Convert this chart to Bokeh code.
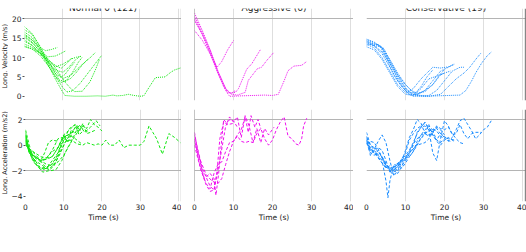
from bokeh.plotting import figure
from bokeh.layouts import column, row
from bokeh.models import Range1d, LinearAxis, FixedTicker, Span, Label
from bokeh.core.properties import value
from bokeh.embed import file_html
from bokeh.resources import INLINE

# ---------------- data ----------------
panel_titles = ["Normal 0 (121)", "Aggressive (6)", "Conservative (19)"]
vel_axis_label = "Long. Velocity (m/s)"
acc_axis_label = "Long. Acceleration (m/s2)"
time_axis_label = "Time (s)"
time_ticks = [0, 10, 20, 30, 40]
vel_ticks = [0, 5, 10, 15, 20]
acc_ticks = [-4, -2, 0, 2]
acc_tick_labels = {-4: "\u22124", -2: "\u22122", 0: "0", 2: "2"}
vel_ref_lines = [20]
acc_ref_lines = [-2, 2]
caption_text = "Fig. 12: Acceleration profiles for each of the"

normal_vel_t = [
    [0, 2, 4, 6, 8, 9.5, 10.5, 13, 16, 19, 21, 23, 24, 25.5, 27, 28.5, 30, 31, 32.5, 34, 35, 36.5, 38, 39, 40.5],
    [0, 2, 4, 5.5, 7, 8.5],
    [0, 2, 4, 6, 8, 9.5, 10.8],
    [0, 2, 4, 6, 8, 10, 12, 13.5, 14.7],
    [0, 2, 4, 6, 8, 10, 12, 14, 16, 17.2, 18.5],
    [0, 2, 4, 6, 8, 10, 11, 12.5, 14.5, 16.5, 18.5, 20],
    [0, 2, 4, 6, 8, 9, 10.5, 12, 13.5, 15, 16.5],
    [0, 2, 4, 6, 8, 9.5, 11, 12.5, 14, 15],
    [0, 2, 4, 6, 8, 10, 11.5, 13, 14.5],
    [0, 2, 4, 6, 8, 9.5, 10.5, 12, 13],
    [0, 2, 4, 6, 8, 9.5, 11, 12.5],
    [0, 2, 4, 6, 7.5, 9, 10.5, 12, 13, 15, 17, 18.5, 19.5],
]
normal_vel_v = [
    [17.2, 16, 12.8, 8.5, 4.5, 1.8, 0.2, 0, 0, 0.1, 0, 0.3, 0.1, 0.2, 0.5, 0.2, 0, 0.1, 2.5, 4.8, 4.9, 5, 6.2, 6.8, 7.3],
    [15.8, 14.5, 12.6, 11.8, 12.1, 12.6],
    [15.2, 13.8, 11.8, 10.2, 10.4, 11.1, 11.8],
    [14.6, 13.2, 11.2, 9.2, 7.6, 8.3, 9.6, 10.1, 10.3],
    [16.6, 15.2, 12.3, 8.8, 5.8, 4.6, 5.4, 7.3, 9.1, 10.1, 11.4],
    [13, 12.2, 10.6, 8.1, 5.1, 2.2, 1.1, 1.4, 3.4, 6, 8.6, 10.5],
    [18, 16.2, 13, 9.5, 6, 4.2, 3.8, 4.6, 6.2, 8.1, 9.6],
    [15.5, 14, 11.5, 8.2, 5.2, 3.5, 4.2, 6.2, 8.8, 10.1],
    [14.2, 13.1, 11, 9, 6.8, 6.2, 7.5, 9.2, 10.4],
    [16.1, 14.6, 12.1, 9, 6.5, 5, 5.6, 7.6, 8.7],
    [13.5, 12.6, 11.2, 9.5, 8, 7.2, 8.5, 10],
    [12.8, 12.2, 11.3, 9.8, 8.1, 5.9, 3.7, 2, 1.2, 1.3, 3.7, 7, 9.6],
]
normal_acc_t = [
    [0, 0.5, 1.5, 3, 4.5, 6, 7.5, 9, 10.5, 12, 13.5, 15, 16, 17, 18, 19, 20, 21, 22, 23.3, 24.5, 25.7, 27, 28.5, 30, 31, 32.3, 33.3, 34.3, 35.8, 37.5, 39, 40.5],
    [0, 1, 2, 3, 4, 5, 6, 7, 8.5],
    [0, 1, 2.5, 4, 5.5, 7, 8.5, 9.5, 10.8],
    [0, 1, 2.5, 4, 5.5, 7, 8.5, 10, 11.5, 13, 14.7],
    [0, 1, 2, 3.5, 5, 6.5, 8, 9.5, 11, 12, 13, 14, 15, 16, 17, 18.5],
    [0, 1, 2, 3.5, 5, 6.5, 8, 9.5, 11, 12.5, 14, 15, 16, 17, 18, 19, 20],
    [0, 1, 2, 3, 4.5, 6, 7.5, 9, 10.5, 12, 13.5, 15, 16.5],
    [0, 1, 2.5, 4, 5.5, 7, 8.5, 10, 11.5, 13, 14, 15],
    [0, 1, 2.5, 4, 5.5, 7, 8.5, 10, 11.5, 13, 14.5],
    [0, 1, 2.5, 4, 5.5, 7, 8.5, 10, 11, 12, 13],
    [0, 1, 2.5, 4, 5.5, 7, 8.5, 10, 11, 12.5],
    [0, 1, 2.5, 4, 5.5, 7, 8.5, 10, 11.5, 12.5, 14, 15.5, 17, 18.5, 19.5],
]
normal_acc_a = [
    [1.1, 0.2, -0.9, -1.3, -1.6, -1.9, -1.5, -0.7, 0.3, 0.4, 0.1, 0.0, 0.2, 0.1, 0.0, 0.1, 0.0, 0.4, 0.0, 0.0, 0.4, -0.2, 0.0, 0.0, 0.0, 0.3, 1.5, 1.0, 0.5, -0.7, 0.9, 0.6, 0.2],
    [0.6, -0.3, -0.8, -1.0, -1.2, -0.6, 0.2, 0.4, 0.3],
    [0.8, -0.5, -1.0, -1.3, -1.0, -0.4, 0.5, 0.6, 0.4],
    [0.4, -0.6, -0.9, -1.2, -1.1, -0.9, -0.2, 0.7, 0.8, 0.5, 0.1],
    [0.9, -0.4, -1.3, -1.7, -1.9, -1.6, -1.0, 0.1, 0.8, 0.9, 1.4, 1.0, 1.7, 0.9, 1.0, 1.2],
    [0.3, -0.4, -0.8, -1.1, -1.6, -2.0, -1.9, -1.2, -0.2, 0.5, 1.2, 1.5, 1.3, 2.0, 1.6, 1.4, 1.1],
    [1.2, 0.0, -1.0, -1.6, -2.1, -2.0, -1.6, -0.6, 0.3, 1.0, 1.5, 1.3, 1.0],
    [0.5, -0.6, -1.2, -1.8, -1.7, -1.5, -0.8, 0.4, 1.3, 1.6, 0.8, 1.1],
    [0.2, -0.5, -0.9, -1.2, -1.0, -0.9, -0.2, 0.8, 1.2, 1.6, 1.1],
    [0.7, -0.6, -1.4, -1.9, -1.8, -1.2, -0.6, 0.7, 0.3, 1.2, 0.9],
    [0.1, -0.3, -0.6, -0.9, -1.0, -0.5, -0.2, 0.8, 0.2, 1.1],
    [0.0, -0.3, -0.7, -1.2, -1.5, -1.6, -1.3, -0.8, 0.0, 0.6, 1.6, 1.0, 1.4, 1.9, 1.5],
]

aggr_vel_t = [
    [0, 2, 4, 5.8, 7, 8.5, 10],
    [0, 2, 4, 6, 8, 9, 10.5, 11.3, 13.4, 14.7, 17],
    [0, 2, 4, 6, 8, 9.5, 11, 13, 13.8, 16.1, 17.2, 18.5, 20.4],
    [0, 2, 4, 6, 8, 9, 12, 15, 18, 20, 21.5, 23, 24, 25.5, 27.5, 28.8],
    [0, 2, 4, 6, 7.5, 8.5, 9.5, 10.5],
]
aggr_vel_v = [
    [17, 14.5, 11, 7.5, 9, 12, 14.4],
    [21.5, 17, 12, 6.5, 2, 0.8, 1, 2, 7, 8.4, 12.2],
    [20.6, 16.5, 12, 6.5, 2, 0.5, 0.3, 1, 4.1, 7.1, 7.5, 9.2, 11.4],
    [19.6, 16, 11, 6, 1.5, 0, 0.1, 0.2, 0.3, 0.2, 0.5, 4, 6.6, 7.8, 8, 9],
    [20, 16, 11.5, 6, 2.5, 1, 0.8, 1.5],
]
aggr_acc_t = [
    [0, 1, 2, 3, 4, 5, 5.8, 6.5, 7.5, 8.5, 10],
    [0, 1.5, 3, 4.5, 6, 7, 8, 9, 10, 11, 12, 13, 13.8, 14.5, 15.5, 16.3, 17],
    [0, 1, 2.5, 4, 5, 5.5, 6.2, 7, 7.5, 8.3, 9, 10, 11, 12, 13, 14, 15, 16, 17, 18, 19, 20.4],
    [0, 1, 2, 3, 4, 5, 6, 7, 8, 9, 10, 11, 12, 13, 14, 15, 16, 17, 18, 19, 20, 21, 22, 23, 24, 25, 26, 26.8, 27.5, 28, 28.8],
    [0, 1.5, 3, 4, 5, 6, 7, 8, 9, 10, 11],
]
aggr_acc_a = [
    [0.8, -0.5, -1.8, -2.5, -3.2, -3.5, -2.0, 0.5, 1.8, 1.6, 1.7],
    [0.3, -1.2, -2.3, -2.8, -3.0, -2.6, -1.5, -0.5, 0.3, 0.8, 1.2, 2.2, 1.0, 2.3, 1.4, 2.0, 1.3],
    [1.0, -0.8, -2.6, -2.2, -2.6, -3.9, -2.2, 0.5, 2.0, 1.7, 2.2, 1.8, 2.2, 0.6, 2.3, 1.5, 0.2, 1.3, 0.2, 1.3, 0.8, 1.4],
    [0.0, -1.2, -2.2, -3.0, -3.4, -2.2, -1.5, -1.3, -0.5, 0.2, 0.3, 0.7, 0.3, 0.2, 0.3, 0.2, 0.9, 1.3, 0.5, 0.0, 0.4, 1.2, 1.8, 2.2, 0.7, 0.5, 0.1, 0.0, 0.5, 1.5, 2.1],
    [0.5, -1.8, -3.1, -3.6, -3.5, -2.0, -0.3, 1.5, 2.0, 1.9, 1.4],
]

cons_vel_t = [
    [0, 2, 4, 6, 8, 10, 12, 13, 15, 17, 19, 21, 22.5],
    [0, 2, 4, 6, 8, 10, 12, 14, 16, 18, 20, 22, 24, 25],
    [0, 2, 4, 6, 8, 10, 12, 15, 18, 21, 24, 25.5, 27, 28, 29.5, 31, 32],
    [0, 2, 4, 6, 8, 10, 12, 16, 19, 21, 23, 25, 26.5, 28, 29.4],
    [0, 2, 4, 6, 8, 10, 12, 14, 16, 18, 20, 21.5],
    [0, 2, 3.5, 5, 7, 9, 10.5, 12, 14, 16, 17, 19, 21, 22.5],
    [0, 1.5, 3, 4, 6, 8, 10, 11, 13, 15, 17, 19, 20],
    [0, 2, 4, 6, 8, 10, 11.5, 13, 15, 17, 18.5, 20],
    [0, 1.5, 3, 4.5, 6, 8, 10, 11, 12.5, 14, 15.5, 17],
]
cons_vel_v = [
    [14.8, 14, 12.5, 9, 5.5, 3, 1, 0.5, 1.5, 4, 6.5, 7.5, 8.4],
    [14.4, 13, 11.5, 8.5, 5, 2, 0.5, 0.2, 0.2, 1.5, 4, 6.5, 7.5, 7.5],
    [14, 13, 11, 7.5, 4, 1.5, 0.3, 0, 0.1, 0.2, 0.3, 1.5, 4, 6, 8.5, 10.5, 11.4],
    [13.5, 12.5, 10, 6.5, 3, 1, 0, 0, 0.5, 2.5, 4.5, 6, 7.5, 9.5, 11.2],
    [12.8, 12, 9.5, 6, 2.5, 0.5, 0.2, 2, 4.5, 5.2, 6, 6.5],
    [14.2, 13.5, 13, 10, 5.5, 2.5, 1, 2, 4.5, 6.5, 7.5, 7.3, 7.6, 8.2],
    [13.8, 13.2, 12.9, 12.5, 8.5, 4.5, 1.5, 0.5, 0.4, 1.5, 3, 5.5, 6],
    [14.6, 13.8, 12.6, 9.5, 6, 3, 1.5, 0.8, 1.2, 3, 5.2, 6.9],
    [13.2, 13.5, 13.4, 12.3, 9.2, 5.5, 2.2, 1, 0.8, 2.5, 5, 6.8],
]
cons_acc_t = [
    [0, 1, 2, 3, 4, 5, 6, 7, 8, 9, 10, 11, 12, 13, 14, 15, 16, 17, 18, 19, 20, 21, 22.5],
    [0, 1, 2, 3, 4, 5, 6, 7, 8, 9, 10, 11, 12, 13, 14, 15, 16, 17, 18, 19, 20, 21, 22, 23, 24, 25],
    [0, 1, 2, 3, 4, 5, 5.5, 6, 7, 8, 9, 10, 11, 12, 13, 14, 15, 16, 17, 18, 19, 20, 21, 22, 23, 24, 25, 26, 27, 28, 29, 30, 31, 32],
    [0, 1, 2, 3, 4, 5, 6, 7, 8, 9, 10, 11, 12, 13, 14, 15, 16, 17, 18, 19, 20, 21, 22, 23, 24, 25, 26, 27, 28, 29.4],
    [0, 1, 2, 3, 4, 5, 6, 7, 8, 9, 10, 11, 12, 13, 14, 15, 16, 17, 18, 19, 20, 21.5],
    [0, 1, 2, 3, 4, 5, 6, 7, 8, 9, 10, 11, 12, 13, 14, 15, 16, 17, 18, 19, 20, 21, 22.5],
    [0, 1, 2, 3, 4, 5, 6, 7, 8, 9, 10, 11, 12, 13, 14, 15, 16, 17, 18, 19, 20],
    [0, 1, 2, 3, 4, 5, 6, 7, 8, 9, 10, 11, 12, 13, 14, 15, 16, 17, 18, 19, 20],
    [0, 1, 2, 3, 4, 5, 6, 7, 8, 9, 10, 11, 12, 13, 14, 15, 16, 17],
]
cons_acc_a = [
    [0.7, -0.3, -0.5, -0.9, -1.4, -1.8, -1.6, -1.9, -1.4, -1.2, -1.0, -0.9, -0.5, 0.3, 0.8, 1.2, 1.5, 1.2, 1.3, 0.9, 0.6, 0.5, 0.4],
    [0.2, -0.6, -0.8, -0.4, -1.0, -1.5, -1.8, -2.0, -1.6, -1.4, -1.0, -0.6, -0.3, 0.0, 0.1, 0.2, 0.5, 1.0, 1.5, 1.3, 1.2, 1.4, 0.9, 0.5, 0.2, 0.1],
    [1.0, 0.0, -0.4, -0.8, -1.2, -2.8, -4.1, -2.8, -1.5, -1.6, -1.2, -0.9, -0.6, -0.3, 0.1, 0.5, 0.9, 1.6, 0.8, 0.4, 0.9, 0.7, 0.3, 0.6, 1.2, 1.9, 2.1, 1.6, 1.1, 0.5, 0.8, 1.2, 1.4, 1.9],
    [0.3, -0.2, -0.6, -1.0, -1.4, -1.7, -1.9, -1.7, -1.5, -1.1, -0.8, -0.4, 0.2, 0.9, 1.4, 1.8, 1.2, -0.6, -1.2, 0.5, 1.9, 1.5, 0.8, 0.9, 1.6, 0.9, 0.5, 0.9, 1.0, 1.0],
    [0.5, -0.8, -0.3, 0.3, 0.8, 0.2, -1.2, -2.4, -2.0, -1.3, -0.4, 0.6, 1.2, 2.0, 1.7, 0.9, 0.8, 1.1, 0.4, 0.2, 0.5, 0.3],
    [0.6, 0.0, -0.2, -0.5, -0.9, -1.4, -2.0, -2.3, -1.7, -1.1, -0.6, 0.4, 0.9, 1.3, 1.5, 1.7, 1.4, 0.8, 0.3, 0.0, 0.4, 0.6, 0.3],
    [0.4, -0.4, -0.3, -0.2, -0.4, -1.2, -2.1, -2.0, -2.2, -1.7, -1.0, -0.5, 0.1, 0.5, 0.8, 0.9, 1.1, 1.3, 1.1, 0.7, 0.5],
    [0.2, -0.4, -0.6, -0.7, -0.9, -1.6, -1.8, -1.7, -1.4, -1.8, -1.4, -0.9, -0.5, 0.0, 0.6, 0.9, 0.7, 1.0, 1.4, 1.2, 0.8],
    [0.1, 0.3, 0.2, -0.3, -1.0, -1.7, -2.0, -1.9, -1.8, -1.6, -1.2, -0.7, 0.0, 1.0, 1.4, 1.5, 1.2, 1.0],
]

# ---------------- styling ----------------
FONT = "DejaVu Sans"
TXT = "#222222"
COLORS = ["#11e611", "#ee11ee", "#1a8cff"]
X_RANGE = (0, 40.8)
VEL_RANGE = (-1.1, 22.7)
ACC_RANGE = (-4.39, 2.78)
TOP_H = 104
BOT_H = 121
CAP_H = 27
LAB_W = 8
WIDTHS = [173, 172, 173]
LEFT_BORDERS = [14, 13, 13]
RIGHT_BORDERS = [0, 0, 1]


def base_fig(i, height, yr, top, bottom):
    p = figure(width=WIDTHS[i], height=height,
               x_range=Range1d(*X_RANGE), y_range=Range1d(*yr),
               x_axis_location=None, y_axis_location=None,
               output_backend="svg", toolbar_location=None,
               min_border_left=LEFT_BORDERS[i], min_border_right=RIGHT_BORDERS[i],
               min_border_top=top, min_border_bottom=bottom)
    p.outline_line_color = None
    p.background_fill_color = "white"
    p.border_fill_color = "white"
    p.xgrid.ticker = FixedTicker(ticks=time_ticks)
    p.xgrid.grid_line_color = "#dedede"
    p.xgrid.grid_line_width = 1
    p.ygrid.grid_line_color = "#b4b4b4"
    p.ygrid.grid_line_width = 1
    if i == 1:
        p.add_layout(Span(location=X_RANGE[0], dimension="height",
                          line_color="#8a8a8a", line_width=1))
    if i == 0:
        p.add_layout(Span(location=X_RANGE[1], dimension="height",
                          line_color="#555555", line_width=1.2))
    if i == 2:
        p.add_layout(Span(location=X_RANGE[1], dimension="height",
                          line_color="#111111", line_width=1.2))
    return p


def style_axis(ax):
    ax.major_label_text_font = FONT
    ax.major_label_text_font_size = "7.5px"
    ax.major_label_text_color = TXT
    ax.axis_label_text_font = FONT
    ax.axis_label_text_font_size = "7.5px"
    ax.axis_label_text_font_style = "normal"
    ax.axis_label_text_color = TXT
    ax.minor_tick_line_color = None
    ax.axis_line_color = None


def label_strip(height, frac_from_top, text):
    """Narrow strip left of the first column holding the rotated y-axis title."""
    s = figure(width=LAB_W, height=height, x_range=Range1d(0, 1), y_range=Range1d(0, 1),
               x_axis_location=None, y_axis_location=None, output_backend="svg",
               toolbar_location=None, min_border=0)
    s.outline_line_color = None
    s.xgrid.visible = False
    s.ygrid.visible = False
    s.text(x=[0.5], y=[1 - frac_from_top], text=[text], angle=90, angle_units="deg",
           text_align="center", text_baseline="middle",
           text_font=value(FONT), text_font_size=value("6.5px"), text_color=TXT)
    return s


vel_data = [(normal_vel_t, normal_vel_v), (aggr_vel_t, aggr_vel_v), (cons_vel_t, cons_vel_v)]
acc_data = [(normal_acc_t, normal_acc_a), (aggr_acc_t, aggr_acc_a), (cons_acc_t, cons_acc_a)]

# label centred on each row's plotting frame
top_figs = [label_strip(TOP_H, (8 + 46) / TOP_H, vel_axis_label)]
bot_figs = [label_strip(BOT_H, (5 + 52) / BOT_H, acc_axis_label)]
for i in range(3):
    # velocity panel
    p = base_fig(i, TOP_H, VEL_RANGE, 8, 4)
    p.ygrid.ticker = FixedTicker(ticks=vel_ref_lines)
    ts, vs = vel_data[i]
    p.multi_line(xs=ts, ys=vs, line_color=COLORS[i], line_width=1.0,
                 line_dash="1 1")
    p.add_layout(Label(x=(X_RANGE[0] + X_RANGE[1]) / 2, y=VEL_RANGE[1], y_offset=1,
                       text=panel_titles[i], text_align="center", text_baseline="alphabetic",
                       text_font=FONT, text_font_size="9px", text_color=TXT))
    if i == 0:
        ax = LinearAxis(ticker=FixedTicker(ticks=vel_ticks))
        style_axis(ax)
        ax.major_tick_out = 2
        ax.major_tick_in = 0
        ax.major_tick_line_color = "#555555"
        ax.major_label_standoff = 1
        p.add_layout(ax, "left")
    top_figs.append(p)

    # acceleration panel
    q = base_fig(i, BOT_H, ACC_RANGE, 5, 24)
    q.ygrid.ticker = FixedTicker(ticks=acc_ref_lines)
    ts, acs = acc_data[i]
    q.multi_line(xs=ts, ys=acs, line_color=COLORS[i], line_width=1.0,
                 line_dash="3 2")
    xa = LinearAxis(ticker=FixedTicker(ticks=time_ticks), axis_label=time_axis_label)
    style_axis(xa)
    xa.major_tick_out = 0
    xa.major_tick_in = 0
    xa.major_tick_line_color = None
    xa.major_label_standoff = 2
    xa.axis_label_standoff = 0
    q.add_layout(xa, "below")
    if i == 0:
        ay = LinearAxis(ticker=FixedTicker(ticks=acc_ticks))
        style_axis(ay)
        ay.major_label_overrides = acc_tick_labels
        ay.major_tick_out = 2
        ay.major_tick_in = 0
        ay.major_tick_line_color = "#555555"
        ay.major_label_standoff = 1
        q.add_layout(ay, "left")
    bot_figs.append(q)

# caption strip (its lower part runs past the bottom edge, as in the source image)
cap_w = LAB_W + sum(WIDTHS)
cap = figure(width=cap_w, height=CAP_H, x_range=Range1d(0, cap_w), y_range=Range1d(0, CAP_H),
             x_axis_location=None, y_axis_location=None, output_backend="svg",
             toolbar_location=None, min_border=0)
cap.outline_line_color = None
cap.xgrid.visible = False
cap.ygrid.visible = False
cap.text(x=[22], y=[3], text=[caption_text], text_align="left",
         text_baseline="top", text_font=value("Liberation Serif"),
         text_font_size=value("30px"), text_color="#111111")

layout = column(row(*top_figs), row(*bot_figs), cap)

html = file_html(layout, INLINE)
with open("out.html", "w") as f:
    f.write(html)
